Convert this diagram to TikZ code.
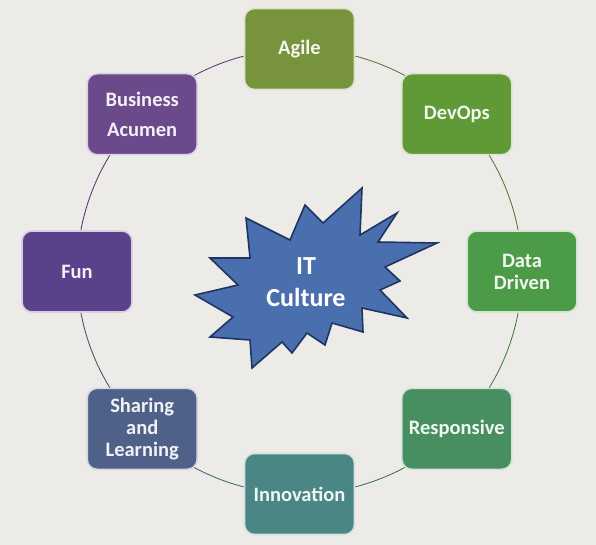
\documentclass[tikz,border=0pt]{standalone}
\usepackage{fontspec}
\setmainfont{Carlito}
\definecolor{bg}{HTML}{EDEBE8}
\definecolor{cAgile}{HTML}{77933C}
\definecolor{cDevOps}{HTML}{5F9A36}
\definecolor{cData}{HTML}{4B9B48}
\definecolor{cResp}{HTML}{478F60}
\definecolor{cInno}{HTML}{4A8683}
\definecolor{cShare}{HTML}{4F6189}
\definecolor{cFun}{HTML}{5B418A}
\definecolor{cBiz}{HTML}{6A4A8A}
\definecolor{starfill}{HTML}{4A6FAE}
\definecolor{starline}{HTML}{1F3560}
\pgfdeclarelayer{bglayer}
\pgfdeclarelayer{arcs}
\pgfsetlayers{bglayer,arcs,main}
\tikzset{
  box/.style={rounded corners=10pt, minimum width=110pt, minimum height=81pt,
    fill=#1, draw=#1!25!white, line width=1.6pt, text=#1!8!white,
    font=\bfseries\fontsize{20.5}{22}\selectfont, align=center, inner sep=2pt},
  arcline/.style={draw=#1!75!black, line width=0.8pt},
  startext/.style={text=white, font=\bfseries\fontsize{26}{32}\selectfont, align=center}
}
\begin{document}
\begin{tikzpicture}[x=1pt,y=-1pt]
\begin{pgfonlayer}{bglayer}
\fill[bg] (0,0) rectangle (596,545);
\end{pgfonlayer}
\useasboundingbox (0,0) rectangle (596,545);
% star
\draw[fill=starfill, draw=starline, line width=1.6pt, line join=miter]
 (362,188) -- (360,235) -- (397,213) -- (378,242) -- (437,243) -- (385,267) --
 (400,281) -- (380,290) -- (407,318) -- (362,308) -- (363,332) -- (332,323) --
 (325,345) -- (307,333) -- (292,353) -- (282,342) -- (252,368) -- (250,340) --
 (210,337) -- (233,317) -- (195,295) -- (238,285) -- (210,258) -- (250,258) --
 (246,218) -- (290,240) -- (305,205) -- (323,223) -- cycle;
\node[startext] (it) at (306,282) {IT\\Culture};
% boxes on a circle centred (299.5,271.5), radius 222.5
\node[box=cAgile]  (agile) at (299.5,49)    {Agile};
\node[box=cDevOps] (devops) at (456.8,114.2) {DevOps};
\node[box=cData]   (data) at (522,271.5)    {Data\\Driven};
\node[box=cResp]   (resp) at (456.8,428.8)  {Responsive};
\node[box=cInno]   (inno) at (299.5,494)    {Innovation};
\node[box=cShare]  (share) at (142.2,428.8) {Sharing\\and\\Learning};
\node[box=cFun]    (fun) at (77,271.5)      {Fun};
\node[box=cBiz]    (biz) at (142.2,114.2)   {Business\\[8pt]Acumen};
% arcs (behind the boxes)
\begin{pgfonlayer}{arcs}
\draw[arcline=cAgile]  (agile.center)  arc[start angle=-90, end angle=-45, radius=222.5];
\draw[arcline=cDevOps] (devops.center) arc[start angle=-45, end angle=0, radius=222.5];
\draw[arcline=cData]   (data.center)   arc[start angle=0, end angle=45, radius=222.5];
\draw[arcline=cResp]   (resp.center)   arc[start angle=45, end angle=90, radius=222.5];
\draw[arcline=cInno]   (inno.center)   arc[start angle=90, end angle=135, radius=222.5];
\draw[arcline=cShare]  (share.center)  arc[start angle=135, end angle=180, radius=222.5];
\draw[arcline=cFun]    (fun.center)    arc[start angle=180, end angle=225, radius=222.5];
\draw[arcline=cBiz]    (biz.center)    arc[start angle=225, end angle=270, radius=222.5];
\end{pgfonlayer}
\end{tikzpicture}
\end{document}
